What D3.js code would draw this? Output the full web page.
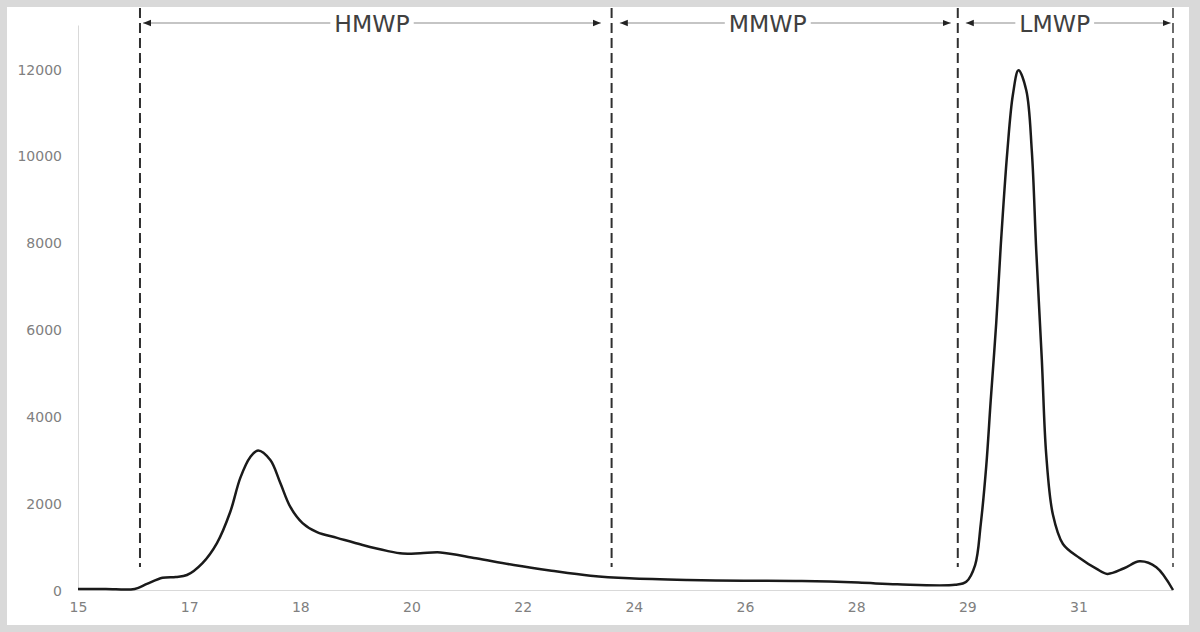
<!DOCTYPE html>
<html>
<head>
<meta charset="utf-8">
<script src="https://cdn.jsdelivr.net/npm/d3@7"></script>
<style>
  html, body { margin: 0; padding: 0; background: #d9d9d9; }
  svg { display: block; }
</style>
</head>
<body>
<svg id="chart" width="1200" height="632"></svg>
<script>
// ---- data ----
// x positions are in category-axis units (0 = first labelled category "15", 1 = "17", ...)
const xTickLabels = ["15", "17", "18", "20", "22", "24", "26", "28", "29", "31"];
const yTicks = [0, 2000, 4000, 6000, 8000, 10000, 12000];
const xPos = [0, 0.25, 0.51, 0.62, 0.76, 0.88, 0.98, 1.12, 1.25, 1.37, 1.46, 1.55, 1.62, 1.73, 1.82, 1.91, 2.02, 2.15, 2.33, 2.56, 2.78, 2.92, 3.08, 3.26, 3.58, 3.92, 4.26, 4.61, 4.96, 5.48, 5.99, 6.51, 7.02, 7.37, 7.89, 7.99, 8.07, 8.12, 8.17, 8.21, 8.26, 8.30, 8.36, 8.41, 8.46, 8.53, 8.58, 8.62, 8.67, 8.71, 8.77, 8.86, 9.01, 9.16, 9.26, 9.41, 9.55, 9.70, 9.85];
const intensity = [25, 25, 25, 140, 280, 300, 345, 620, 1080, 1800, 2580, 3060, 3210, 2990, 2460, 1910, 1540, 1330, 1200, 1035, 900, 840, 845, 865, 730, 575, 445, 330, 268, 230, 215, 205, 170, 130, 120, 190, 575, 1500, 2850, 4350, 6150, 7900, 10100, 11400, 11960, 11500, 10100, 7800, 5300, 3100, 1730, 1060, 735, 490, 370, 500, 660, 525, 0];
const boundaries = [0.5576, 4.80, 7.914, 9.85];
const regionNames = ["HMWP", "MMWP", "LMWP"];
const regionLabelPos = [2.645, 6.205, 8.786];
const arrowStart = [0.585, 4.874, 7.986];
const arrowEnd = [4.703, 7.851, 9.829];

// ---- layout ----
const svg = d3.select("#chart");
svg.append("rect").attr("x", 7).attr("y", 7).attr("width", 1182).attr("height", 618).attr("fill", "#ffffff");

const x = d3.scaleLinear().domain([0, 9.85]).range([78, 1173]);
const y = d3.scaleLinear().domain([0, 13000]).range([590, 25]);

const font = "DejaVu Sans, sans-serif";

// y axis
const yAxis = d3.axisLeft(y).tickValues(yTicks).tickSize(0).tickPadding(16).tickFormat(d3.format("d"));
const gy = svg.append("g").attr("transform", "translate(78,0)").call(yAxis);
gy.select(".domain").attr("stroke", "#d9d9d9").attr("stroke-width", 1);
gy.selectAll("text").attr("font-family", font).attr("font-size", 14).attr("fill", "#808080").attr("dy", "0.4em");

// x axis
const xAxis = d3.axisBottom(x).tickValues(d3.range(xTickLabels.length)).tickSize(0).tickPadding(12)
  .tickFormat((d, i) => xTickLabels[i]);
const gx = svg.append("g").attr("transform", "translate(0,590)").call(xAxis);
gx.select(".domain").attr("stroke", "#d9d9d9").attr("stroke-width", 1);
gx.selectAll("text").attr("font-family", font).attr("font-size", 14).attr("fill", "#808080");

// boundaries (dashed)
svg.append("g").selectAll("line").data(boundaries).join("line")
  .attr("x1", d => x(d)).attr("x2", d => x(d))
  .attr("y1", 8).attr("y2", 567)
  .attr("stroke", (d, i) => i === boundaries.length - 1 ? "#6a6a6a" : "#303030")
  .attr("stroke-width", 2)
  .attr("stroke-dasharray", "10,5");

// curve
const pts = xPos.map((d, i) => [d, intensity[i]]);
const line = d3.line().x(d => x(d[0])).y(d => y(d[1])).curve(d3.curveCatmullRom.alpha(0.5));
svg.append("path").datum(pts).attr("d", line)
  .attr("fill", "none").attr("stroke", "#1a1a1a").attr("stroke-width", 2.5)
  .attr("stroke-linejoin", "round");

// region annotations
const defs = svg.append("defs");
defs.append("marker").attr("id", "ah").attr("viewBox", "0 0 10 10").attr("refX", 10).attr("refY", 5)
  .attr("markerWidth", 8).attr("markerHeight", 8).attr("markerUnits", "userSpaceOnUse").attr("orient", "auto-start-reverse")
  .append("path").attr("d", "M0,1 L10,5 L0,9 Z").attr("fill", "#222");

const ay = 23;
regionNames.forEach((name, i) => {
  const g = svg.append("g");
  const t = g.append("text").text(name)
    .attr("x", x(regionLabelPos[i])).attr("y", ay)
    .attr("text-anchor", "middle").attr("dominant-baseline", "central").attr("dy", 1)
    .attr("font-family", font).attr("font-size", 23.5).attr("fill", "#404040");
  const w = t.node().getComputedTextLength();
  const cx = x(regionLabelPos[i]);
  g.append("line").attr("x1", cx - w / 2 - 4).attr("x2", x(arrowStart[i])).attr("y1", ay).attr("y2", ay)
    .attr("stroke", "#8c8c8c").attr("stroke-width", 1.2).attr("marker-end", "url(#ah)");
  g.append("line").attr("x1", cx + w / 2 + 4).attr("x2", x(arrowEnd[i])).attr("y1", ay).attr("y2", ay)
    .attr("stroke", "#8c8c8c").attr("stroke-width", 1.2).attr("marker-end", "url(#ah)");
});
</script>
</body>
</html>
